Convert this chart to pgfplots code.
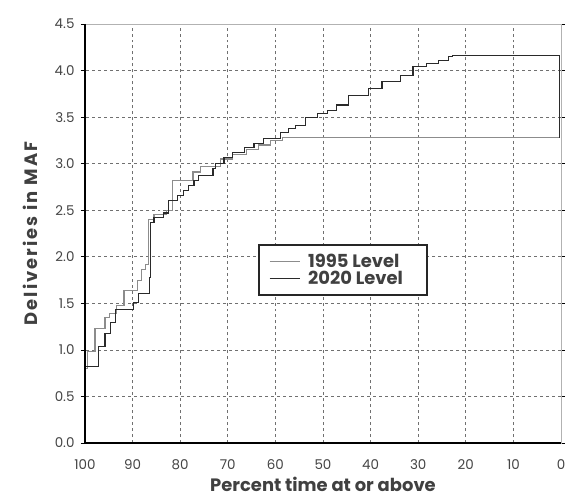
\documentclass[border=0pt]{standalone}
\usepackage{fontspec}
\setmainfont{Poppins}
\usepackage{pgfplots}
\usepackage{pgfplotstable}
\pgfplotsset{compat=1.18}
\definecolor{darkline}{HTML}{2A2A2A}
\definecolor{lightline}{HTML}{8C8C8C}
\definecolor{gridc}{HTML}{707070}
\definecolor{tickc}{HTML}{444444}

% exceedance steps, x = percent time at or above
\pgfplotstableread{
x y
100 0.80
99.4 0.98
97.9 1.23
95.8 1.35
94.8 1.39
93.3 1.48
91.8 1.64
89.0 1.75
88.2 1.86
87.2 1.92
86.6 2.40
85.5 2.45
82.8 2.50
81.7 2.82
77.3 2.91
75.8 2.97
71.5 3.05
69.0 3.10
66.0 3.15
63.5 3.20
61.0 3.25
58.5 3.28
0.4 3.28
}\lvlA
\pgfplotstableread{
x y
100 0.82
97.1 1.04
95.8 1.18
94.7 1.29
93.5 1.43
89.9 1.51
88.8 1.61
86.5 1.78
86.3 2.37
85.5 2.42
83.5 2.47
82.4 2.60
80.5 2.66
79.3 2.71
78.3 2.77
77.1 2.82
76.1 2.87
73.1 2.95
72.5 3.00
70.8 3.07
69.0 3.12
66.5 3.17
64.5 3.22
62.5 3.27
59.0 3.33
57.3 3.38
55.8 3.41
53.6 3.50
51.1 3.54
49.0 3.57
47.1 3.63
44.7 3.73
40.5 3.81
37.6 3.88
33.8 3.95
31.1 4.04
28.2 4.08
25.8 4.11
23.7 4.15
22.7 4.16
0.4 4.16
0.4 3.28
}\lvlB

\begin{document}
\begin{tikzpicture}
\begin{axis}[
    scale only axis,
    width=476bp, height=419bp,
    x dir=reverse,
    xmin=0, xmax=100, ymin=0, ymax=4.5,
    xtick={0,10,20,30,40,50,60,70,80,90,100},
    ytick={0,0.5,1,1.5,2,2.5,3,3.5,4,4.5},
    yticklabel style={xshift=-3bp, /pgf/number format/.cd, fixed, fixed zerofill, precision=1},
    /pgf/number format/assume math mode=true,
    tick label style={font=\fontsize{13.5}{15}\selectfont, text=tickc},
    xticklabel style={yshift=-9bp},
    label style={font=\bfseries\fontsize{18}{21}\selectfont, text=black!75},
    xlabel={Percent time at or above},
    ylabel={\addfontfeatures{LetterSpace=11}Deliveries in MAF},
    xlabel style={at={(axis description cs:0.5,-0.098)}, anchor=center},
    ylabel style={at={(axis description cs:-0.1155,0.5)}, anchor=center},
    grid=major,
    major grid style={gridc, dashed, line width=0.6pt},
    axis line style={gray!60, line width=0.6pt},
    tick align=outside,
    major tick length=4bp,
    xtick style={draw=none},
    ytick style={black, line width=0.6pt},
    legend style={at={(0.542,0.413)}, anchor=center, draw=black!85, line width=1.8pt,
        font=\bfseries\fontsize{18}{21}\selectfont, text=black!75,
        inner xsep=10bp, inner ysep=7bp, row sep=-2bp},
    legend cell align=left,
    legend image code/.code={\draw[#1, line width=1pt] (0bp,0bp) -- (30bp,0bp);
        \path (36bp,0bp);},
    after end axis/.code={
        \draw[black, line width=1.1pt] (rel axis cs:0,1) -- (rel axis cs:0,0) -- (rel axis cs:1,0);
        \path (rel axis cs:0,0) ++(-85bp,-53bp);
        \path (rel axis cs:1,1) ++(10bp,24bp);
    },
]
\addplot[const plot, lightline, line width=1.1pt] table[x=x, y=y] {\lvlA};
\addplot[const plot, darkline, line width=1.1pt] table[x=x, y=y] {\lvlB};
\legend{1995 Level\rule{12bp}{0pt}, 2020 Level\rule{12bp}{0pt}}
\end{axis}
\end{tikzpicture}
\end{document}
